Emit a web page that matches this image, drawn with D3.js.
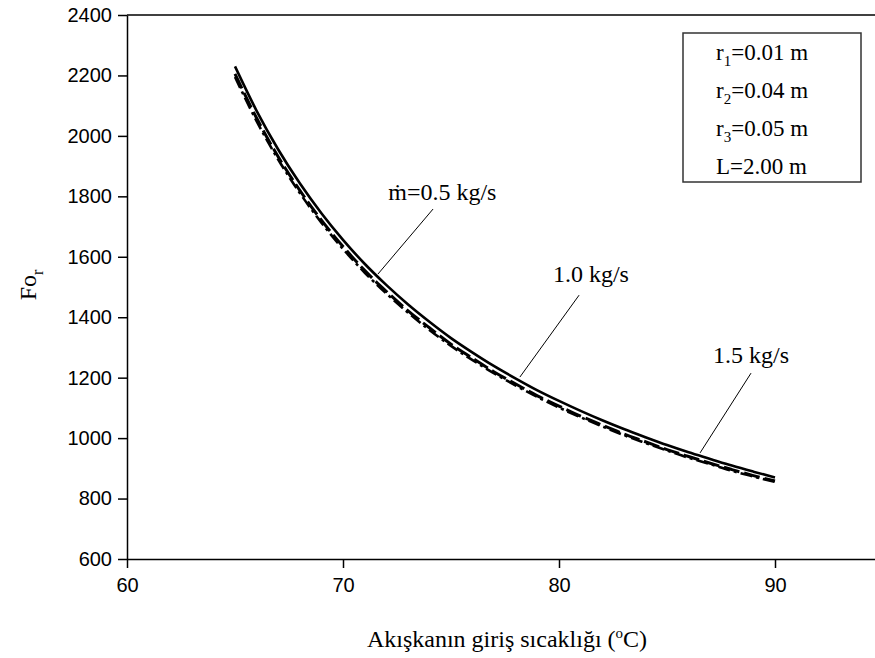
<!DOCTYPE html>
<html>
<head>
<meta charset="utf-8">
<script src="https://cdn.jsdelivr.net/npm/d3@7"></script>
<style>
  body { margin: 0; background: #fff; }
  svg { display: block; }
</style>
</head>
<body>
<div class="chart"></div>
<script>

// inlet temperature (C)
var temps = [65,66,67,68,69,70,71,72,73,74,75,76,77,78,79,80,81,82,83,84,85,86,87,88,89,90];

// Fo_r for each mass flow
var fo05 = [2230,2083,1955,1843,1744,1656,1577,1507,1443,1385,1331,1283,1238,1197,1158,1123,1090,1059,1030,1003,977,953,931,909,889,870];
var fo10 = [2205,2059,1931,1820,1721,1634,1555,1486,1422,1365,1311,1264,1219,1179,1140,1106,1073,1043,1014,988,962,939,917,896,876,858];
var fo15 = [2195,2049,1922,1811,1713,1626,1548,1479,1416,1358,1305,1258,1214,1174,1136,1101,1069,1039,1010,984,959,935,914,892,873,855];

var xTicks = [60,70,80,90];
var yTicks = [600,800,1000,1200,1400,1600,1800,2000,2200,2400];

var legendLines = [["r","1","=0.01 m"],["r","2","=0.04 m"],["r","3","=0.05 m"],["L","","=2.00 m"]];

var margin = {top: 15, left: 127},
  width = 756,
  height = 544;

var svg = d3.select(".chart")
  .append("svg")
    .attr("width", 875)
    .attr("height", 658)
  .append("g")
    .attr("transform","translate(" + margin.left + "," + margin.top + ")");

var x = d3.scaleLinear().domain([60, 95]).range([0, width]);
var y = d3.scaleLinear().domain([600, 2400]).range([height, 0]);

// axes
svg.append("g")
  .attr("transform", "translate(0," + height + ")")
  .call(d3.axisBottom(x).tickValues(xTicks).tickFormat(d3.format("d")).tickSize(9).tickSizeOuter(0).tickPadding(10));

svg.append("g")
  .call(d3.axisLeft(y).tickValues(yTicks).tickFormat(d3.format("d")).tickSize(9).tickSizeOuter(0).tickPadding(6));

svg.selectAll(".domain, .tick line").attr("stroke", "#000").attr("stroke-width", 1.5);
svg.selectAll(".tick text")
  .attr("fill", "#000")
  .style("font-family", "'Liberation Sans', Arial, sans-serif")
  .style("font-size", "20px");

// top frame line
svg.append("line")
  .attr("x1", 0).attr("x2", width)
  .attr("y1", 0).attr("y2", 0)
  .attr("stroke", "#000").attr("stroke-width", 1.5);

// curves
var series = [
  {vals: fo05, dash: null, w: 2.6},
  {vals: fo10, dash: "16,5", w: 3},
  {vals: fo15, dash: "12,4,3,4", w: 2.6}
];

var line = d3.line()
  .x(function(d) { return x(d[0]); })
  .y(function(d) { return y(d[1]); })
  .curve(d3.curveMonotoneX);

series.slice().reverse().forEach(function(s) {
  svg.append("path")
    .datum(temps.map(function(t, i) { return [t, s.vals[i]]; }))
    .attr("d", line)
    .attr("fill", "none")
    .attr("stroke", "#000")
    .attr("stroke-width", s.w)
    .attr("stroke-dasharray", s.dash);
});

// labels with leader lines
var notes = [
  {text: "\u1E41=0.5 kg/s", tx: 74.6, ty: 1814, x1: 74.17, y1: 1758, x2: 71.62, y2: 1543},
  {text: "1.0 kg/s", tx: 81.48, ty: 1543, x1: 80.93, y1: 1473, x2: 78.19, y2: 1202},
  {text: "1.5 kg/s", tx: 88.89, ty: 1275, x1: 88.89, y1: 1215, x2: 86.53, y2: 951}
];

notes.forEach(function(n) {
  svg.append("line")
    .attr("x1", x(n.x1)).attr("y1", y(n.y1))
    .attr("x2", x(n.x2)).attr("y2", y(n.y2))
    .attr("stroke", "#000").attr("stroke-width", 1);
  svg.append("text")
    .attr("x", x(n.tx)).attr("y", y(n.ty) + 8)
    .attr("text-anchor", "middle")
    .style("font-family", "'Liberation Serif', 'Times New Roman', serif")
    .style("font-size", "24px")
    .text(n.text);
});

// parameter box
var box = svg.append("g").attr("transform", "translate(" + (683 - margin.left) + "," + (33 - margin.top) + ")");
box.append("rect")
  .attr("width", 178).attr("height", 149)
  .attr("fill", "#fff")
  .attr("stroke", "#333").attr("stroke-width", 1.5);

legendLines.forEach(function(l, i) {
  var t = box.append("text")
    .attr("x", 33).attr("y", 27 + i * 38)
    .style("font-family", "'Liberation Serif', 'Times New Roman', serif")
    .style("font-size", "23px");
  t.append("tspan").text(l[0]);
  if (l[1]) t.append("tspan").attr("dy", 6).style("font-size", "15px").text(l[1]);
  t.append("tspan").attr("dy", l[1] ? -6 : 0).text(l[2]);
});

// axis titles
var xt = svg.append("text")
  .attr("x", 507 - margin.left).attr("y", 647 - margin.top)
  .attr("text-anchor", "middle")
  .style("font-family", "'Liberation Serif', 'Times New Roman', serif")
  .style("font-size", "24px");
xt.append("tspan").text("Akışkanın giriş sıcaklığı (");
xt.append("tspan").attr("dy", -9).style("font-size", "15px").text("o");
xt.append("tspan").attr("dy", 9).text("C)");

var yt = svg.append("text")
  .attr("transform", "translate(" + (36 - margin.left) + "," + (285 - margin.top) + ") rotate(-90)")
  .attr("text-anchor", "middle")
  .style("font-family", "'Liberation Serif', 'Times New Roman', serif")
  .style("font-size", "24px");
yt.append("tspan").text("Fo");
yt.append("tspan").attr("dy", 7).style("font-size", "16px").text("r");

</script>
</body>
</html>
